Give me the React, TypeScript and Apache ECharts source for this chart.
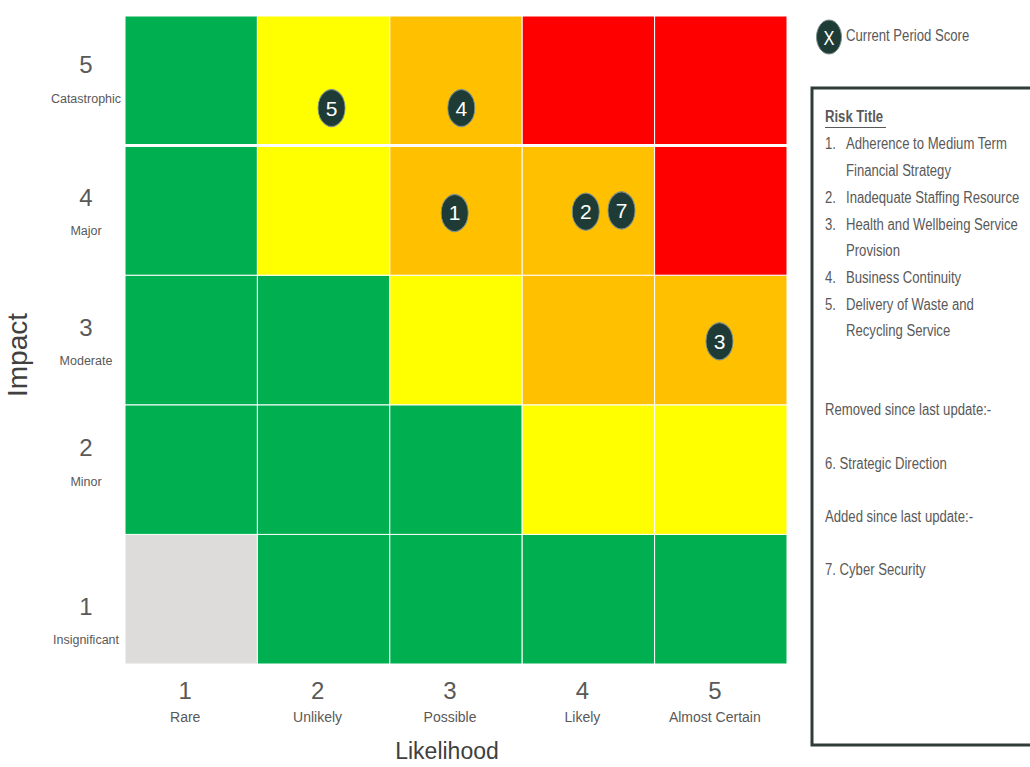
import React, { useEffect, useRef } from "react";
import * as echarts from "echarts";

const likelihoodLabels = ["Rare", "Unlikely", "Possible", "Likely", "Almost Certain"];
const impactLabels = ["Insignificant", "Minor", "Moderate", "Major", "Catastrophic"];
// rating per cell: rows impact 1..5, columns likelihood 1..5
// 0 = none(grey), 1 = green, 2 = yellow, 3 = amber, 4 = red
const impact1Row = [0, 1, 1, 1, 1];
const impact2Row = [1, 1, 1, 2, 2];
const impact3Row = [1, 1, 2, 3, 3];
const impact4Row = [1, 2, 3, 3, 4];
const impact5Row = [1, 2, 3, 4, 4];
const ratingColors = ["#DDDCDA", "#00B050", "#FFFF00", "#FFC000", "#FF0000"];

const riskIds = [5, 4, 1, 2, 7, 3];
const riskLikelihood = [2.06, 3.04, 2.99, 3.98, 4.25, 4.99];
const riskImpact = [4.79, 4.79, 3.98, 3.99, 4.0, 2.99];

const riskTitles = [
  ["1.", "Adherence to Medium Term", "Financial Strategy"],
  ["2.", "Inadequate Staffing Resource"],
  ["3.", "Health and Wellbeing Service", "Provision"],
  ["4.", "Business Continuity"],
  ["5.", "Delivery of Waste and", "Recycling Service"],
];
const notes = [
  "Removed since last update:-",
  "6. Strategic Direction",
  "Added since last update:-",
  "7. Cyber Security",
];

const SANS = "'Liberation Sans', Arial, sans-serif";
const TXT = "#595959";
const MARK = "#1F3B35";
const NARROW_SCALE = 0.82;

export default function App() {
  const ref = useRef<HTMLDivElement>(null);
  useEffect(() => {
    if (!ref.current) return;
    const chart = echarts.init(ref.current, null, { renderer: "svg" });
    const rows = [impact1Row, impact2Row, impact3Row, impact4Row, impact5Row];
    const cells: number[][] = [];
    rows.forEach((row, yi) => row.forEach((r, xi) => cells.push([xi + 1, yi + 1, r])));

    const narrowText = (text: string, x: number, y: number, font: string, fill = TXT, align = "left") => ({
      type: "text",
      x,
      y,
      scaleX: NARROW_SCALE,
      style: { text, fill, font, verticalAlign: "middle", align },
    });

    const graphics: any[] = [];
    // legend
    graphics.push({
      type: "ellipse",
      shape: { cx: 829, cy: 37, rx: 12.5, ry: 17 },
      style: { fill: MARK, stroke: "#7f918b", lineWidth: 1 },
    });
    graphics.push(narrowText("X", 829, 38, `20px ${SANS}`, "#ffffff", "center"));
    graphics.push(narrowText("Current Period Score", 846, 36, `16px ${SANS}`));
    // box
    graphics.push({
      type: "rect",
      shape: { x: 812, y: 88, width: 240, height: 657 },
      style: { fill: "#fff", stroke: "#2F3C37", lineWidth: 3 },
    });
    graphics.push(narrowText("Risk Title", 825, 117, `bold 16px ${SANS}`));
    graphics.push({
      type: "line",
      shape: { x1: 825, y1: 127.5, x2: 886, y2: 127.5 },
      style: { stroke: TXT, lineWidth: 1.2 },
    });
    let ly = 144;
    const lh = 26.7;
    riskTitles.forEach((t) => {
      graphics.push(narrowText(t[0], 825, ly, `16px ${SANS}`));
      for (let k = 1; k < t.length; k++) {
        graphics.push(narrowText(t[k], 846, ly, `16px ${SANS}`));
        ly += lh;
      }
    });
    const noteY = [410, 464, 517, 570];
    notes.forEach((n, i) => {
      graphics.push(narrowText(n, 825, noteY[i], `16px ${SANS}`));
    });
    graphics.push({
      type: "line",
      shape: { x1: 484, y1: 189, x2: 490, y2: 189 },
      style: { stroke: "#666", lineWidth: 1 },
    });

    chart.setOption({
      animation: false,
      grid: { left: 125, top: 16, width: 662, height: 648, containLabel: false, outerBoundsMode: "none" },
      xAxis: [
        { type: "value", min: 0.5, max: 5.5, show: false },
        {
          type: "category",
          data: likelihoodLabels,
          position: "bottom",
          axisLine: { show: false },
          axisTick: { show: false },
          axisLabel: {
            margin: 10,
            padding: [0, 12, 0, 0],
            formatter: (v: string, i: number) => `{n|${i + 1}}\n{s|${v}}`,
            rich: {
              n: { fontSize: 24, fontFamily: SANS, color: TXT, lineHeight: 32 },
              s: { fontSize: 14, fontFamily: SANS, color: TXT, lineHeight: 22 },
            },
          },
          name: "Likelihood",
          nameLocation: "middle",
          nameGap: 75,
          nameTextStyle: { fontSize: 23, fontFamily: SANS, color: "#404040", padding: [0, 18, 0, 0] },
        },
      ],
      yAxis: [
        { type: "value", min: 0.5, max: 5.5, show: false },
        {
          type: "category",
          data: impactLabels,
          position: "left",
          axisLine: { show: false },
          axisTick: { show: false },
          axisLabel: {
            margin: 39,
            align: "center",
            formatter: (v: string, i: number) => {
              if (i === 0) return `{sp| }\n{n|${i + 1}}\n{s|${v}}`;
              if (i === 1) return `{n|${i + 1}}\n{s|${v}}\n{sp2| }`;
              if (i === 4) return `{n|${i + 1}}\n{s|${v}}\n{sp3| }`;
              return `{n|${i + 1}}\n{s|${v}}`;
            },
            rich: {
              sp: { fontSize: 10, lineHeight: 40 },
              sp2: { fontSize: 10, lineHeight: 18 },
              sp3: { fontSize: 10, lineHeight: 6 },
              n: { fontSize: 24, fontFamily: SANS, color: TXT, lineHeight: 42, align: "center" },
              s: { fontSize: 12.5, fontFamily: SANS, color: TXT, lineHeight: 26, align: "center" },
            },
          },
          name: "Impact",
          nameLocation: "middle",
          nameGap: 94,
          nameTextStyle: { fontSize: 28, fontFamily: SANS, color: "#404040", padding: [0, 30, 0, 0] },
        },
      ],
      series: [
        {
          type: "custom",
          xAxisIndex: 0,
          yAxisIndex: 0,
          data: cells,
          renderItem: (params: any, api: any) => {
            const x = api.value(0);
            const y = api.value(1);
            const p0 = api.coord([x - 0.5, y + 0.5]);
            const p1 = api.coord([x + 0.5, y - 0.5]);
            return {
              type: "rect",
              shape: { x: p0[0], y: p0[1], width: p1[0] - p0[0], height: p1[1] - p0[1] },
              style: { fill: ratingColors[api.value(2)], stroke: "#ffffff", lineWidth: 1 },
            };
          },
          markLine: {
            silent: true,
            symbol: "none",
            label: { show: false },
            lineStyle: { color: "#ffffff", width: 3, type: "solid" },
            data: [{ yAxis: 4.5 }],
          },
          z: 1,
        },
        {
          type: "scatter",
          xAxisIndex: 0,
          yAxisIndex: 0,
          symbol: "circle",
          symbolSize: [27, 37],
          itemStyle: { color: MARK, borderColor: "#7f918b", borderWidth: 1, opacity: 1 },
          label: {
            show: true,
            position: "inside",
            formatter: (p: any) => String(p.value[2]),
            color: "#ffffff",
            fontSize: 21,
            fontFamily: SANS,
          },
          data: riskIds.map((id, i) => [riskLikelihood[i], riskImpact[i], id]),
          z: 5,
        },
      ],
      graphic: graphics,
    });
    return () => chart.dispose();
  }, []);
  return <div ref={ref} style={{ position: "fixed", left: 0, top: 0, width: 1030, height: 767, background: "#fff" }} />;
}
